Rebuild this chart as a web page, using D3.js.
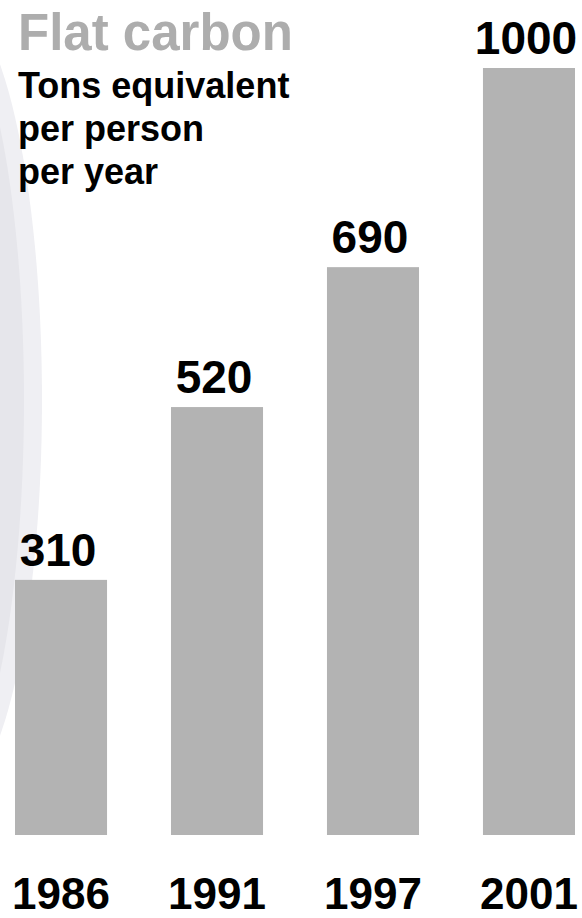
<!DOCTYPE html>
<html>
<head>
<meta charset="utf-8">
<script src="https://cdn.jsdelivr.net/npm/d3@7"></script>
<style>
  body { margin: 0; background: #fff; overflow: hidden; }
  svg { display: block; }
  text { font-family: 'Liberation Sans', Arial, sans-serif; font-weight: bold; }
</style>
</head>
<body>
<div class="container"></div>
<script>
const years = ['1986', '1991', '1997', '2001']
const tons = [310, 520, 690, 1000]
const subtitle = ['Tons equivalent', 'per person', 'per year']

const width = 582
const height = 918
const baseline = 835

const svg = d3.select('.container').append('svg')
  .attr('width', width)
  .attr('height', height)

// faint globe shape on the left
svg.append('ellipse')
  .attr('cx', -50).attr('cy', 400)
  .attr('rx', 92).attr('ry', 400)
  .attr('fill', '#efeff3')
svg.append('ellipse')
  .attr('cx', -60).attr('cy', 400)
  .attr('rx', 84).attr('ry', 390)
  .attr('fill', '#e6e6eb')

const x = d3.scaleBand()
  .domain(years)
  .range([15, 575])
  .paddingInner(0.41)
  .paddingOuter(0)

// last bar is cut short in the original, so clamp the scale
const y = d3.scaleLinear()
  .domain([0, 932])
  .range([baseline, 68])
  .clamp(true)

svg.selectAll('rect.bar')
  .data(tons)
  .enter()
  .append('rect')
  .attr('class', 'bar')
  .attr('x', (d, i) => x(years[i]))
  .attr('y', d => y(d))
  .attr('width', x.bandwidth())
  .attr('height', d => baseline - y(d))
  .attr('fill', '#b3b3b3')

svg.selectAll('text.value')
  .data(tons)
  .enter()
  .append('text')
  .attr('class', 'value')
  .attr('x', (d, i) => x(years[i]) + x.bandwidth() / 2 - 3)
  .attr('y', d => y(d) - 14)
  .attr('text-anchor', 'middle')
  .attr('font-size', 46)
  .attr('fill', '#000')
  .text(d => d)

svg.selectAll('text.year')
  .data(years)
  .enter()
  .append('text')
  .attr('class', 'year')
  .attr('x', d => x(d) + x.bandwidth() / 2)
  .attr('y', 909)
  .attr('text-anchor', 'middle')
  .attr('font-size', 44)
  .attr('fill', '#000')
  .text(d => d)

svg.append('text')
  .attr('x', 18)
  .attr('y', 50)
  .attr('font-size', 51)
  .attr('fill', '#adadad')
  .text('Flat carbon')

svg.selectAll('text.sub')
  .data(subtitle)
  .enter()
  .append('text')
  .attr('class', 'sub')
  .attr('x', 18)
  .attr('y', (d, i) => 98 + i * 43)
  .attr('font-size', 36)
  .attr('fill', '#000')
  .text(d => d)
</script>
</body>
</html>
